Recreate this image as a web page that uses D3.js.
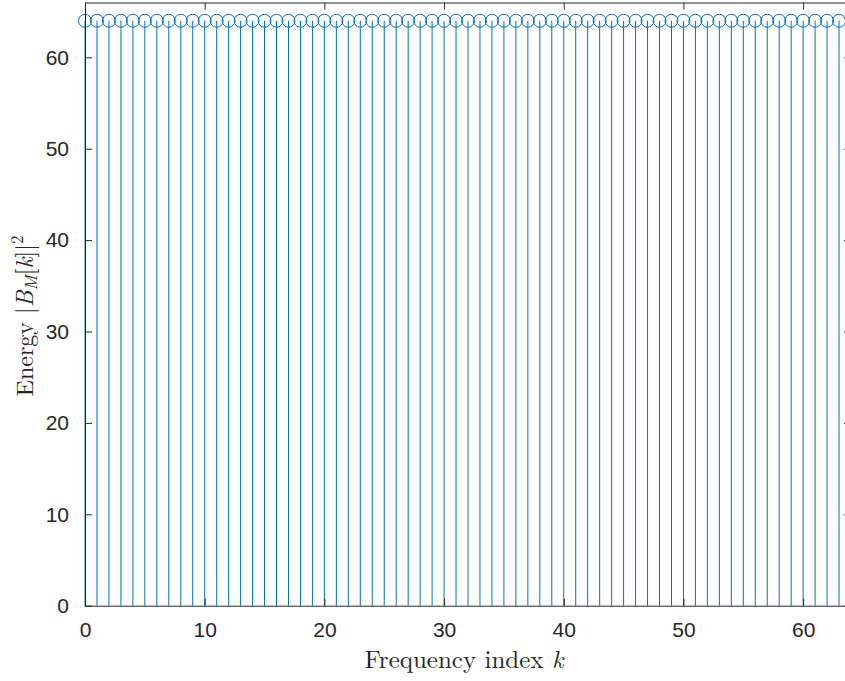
<!DOCTYPE html>
<html>
<head>
<meta charset="utf-8">
<script src="https://cdn.jsdelivr.net/npm/d3@7"></script>
<style>
  html, body { margin: 0; padding: 0; background: #fff; }
  svg { display: block; }
</style>
</head>
<body>
<svg id="chart" width="845" height="681"></svg>
<script>
// Frequency indices k and the energy |B_M[k]|^2 at each index
const freqIndex = [0,1,2,3,4,5,6,7,8,9,10,11,12,13,14,15,16,17,18,19,20,21,22,23,24,25,26,27,28,29,30,31,
                   32,33,34,35,36,37,38,39,40,41,42,43,44,45,46,47,48,49,50,51,52,53,54,55,56,57,58,59,60,61,62,63];
const energy = [64,64,64,64,64,64,64,64,64,64,64,64,64,64,64,64,64,64,64,64,64,64,64,64,64,64,64,64,64,64,64,64,
                64,64,64,64,64,64,64,64,64,64,64,64,64,64,64,64,64,64,64,64,64,64,64,64,64,64,64,64,64,64,64,64];
const xTicks = [0, 10, 20, 30, 40, 50, 60];
const yTicks = [0, 10, 20, 30, 40, 50, 60];

const svg = d3.select("#chart");
const plotL = 85, plotR = 851, plotT = 2.5, plotB = 605.7;
const x = d3.scaleLinear().domain([0, 64]).range([plotL, plotR]);
const y = d3.scaleLinear().domain([0, 66]).range([plotB, plotT]);

const axisColor = "#262626";
const stemColor = "#0072BD";
const tickLen = 7;

// stems
const g = svg.append("g");
g.selectAll("line.stem").data(freqIndex).enter().append("line")
  .attr("class", "stem")
  .attr("x1", d => x(d)).attr("x2", d => x(d))
  .attr("y1", y(0)).attr("y2", (d, i) => y(energy[i]))
  .attr("stroke", stemColor).attr("stroke-width", 1);

// open circle markers
g.selectAll("circle.mk").data(freqIndex).enter().append("circle")
  .attr("class", "mk")
  .attr("cx", d => x(d)).attr("cy", (d, i) => y(energy[i]))
  .attr("r", 6.5)
  .attr("fill", "none").attr("stroke", stemColor).attr("stroke-width", 1);

// axes: ticks point inward, box on
const font = "'Liberation Sans', Arial, Helvetica, sans-serif";
function styleAxis(sel) {
  sel.selectAll("path").attr("stroke", axisColor).attr("stroke-width", 1);
  sel.selectAll(".tick line").attr("stroke", axisColor).attr("stroke-width", 1);
  sel.selectAll(".tick text").attr("fill", axisColor).style("font-family", font).style("font-size", "21px");
}

const xAxis = svg.append("g").attr("transform", `translate(0,${plotB})`)
  .call(d3.axisBottom(x).tickValues(xTicks).tickSizeInner(-tickLen).tickSizeOuter(0).tickPadding(tickLen + 9));
styleAxis(xAxis);

const xAxisTop = svg.append("g").attr("transform", `translate(0,${plotT})`)
  .call(d3.axisTop(x).tickValues(xTicks).tickSizeInner(-tickLen).tickSizeOuter(0).tickFormat(""));
styleAxis(xAxisTop);

const yAxis = svg.append("g").attr("transform", `translate(${plotL},0)`)
  .call(d3.axisLeft(y).tickValues(yTicks).tickSizeInner(-tickLen).tickSizeOuter(0).tickPadding(tickLen + 9));
styleAxis(yAxis);

const yAxisRight = svg.append("g").attr("transform", `translate(${plotR},0)`)
  .call(d3.axisRight(y).tickValues(yTicks).tickSizeInner(-tickLen).tickSizeOuter(0).tickFormat(""));
styleAxis(yAxisRight);

// axis labels (math-style serif)
const serif = "'Latin Modern Roman', 'CMU Serif', 'DejaVu Serif', serif";
const xl = svg.append("text")
  .attr("x", 464).attr("y", 668)
  .attr("text-anchor", "middle")
  .attr("fill", axisColor)
  .style("font-family", serif).style("font-size", "25px");
xl.append("tspan").text("Frequency index ");
xl.append("tspan").attr("font-style", "italic").text("k");

const yl = svg.append("text")
  .attr("transform", `translate(33,316) rotate(-90)`)
  .attr("text-anchor", "middle")
  .attr("fill", axisColor)
  .style("font-family", serif).style("font-size", "24px");
yl.append("tspan").text("Energy |");
yl.append("tspan").attr("font-style", "italic").text("B");
yl.append("tspan").attr("font-style", "italic").attr("font-size", "17px").attr("dy", 4).text("M");
yl.append("tspan").attr("dy", -4).text("[");
yl.append("tspan").attr("font-style", "italic").text("k");
yl.append("tspan").text("]|");
yl.append("tspan").attr("font-size", "17px").attr("dy", -10).text("2");
</script>
</body>
</html>
